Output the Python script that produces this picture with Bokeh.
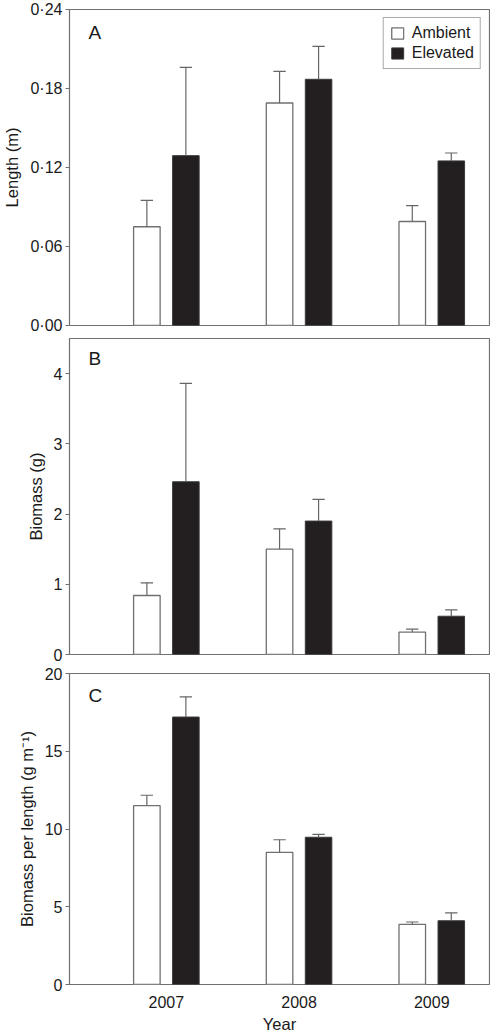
from bokeh.plotting import figure
from bokeh.layouts import column
from bokeh.models import ColumnDataSource, FixedTicker, Range1d, Label, Legend, LegendItem
from bokeh.embed import file_html
from bokeh.resources import INLINE

# ---------------- data ----------------
years = [2007, 2008, 2009]
series_names = ["Ambient", "Elevated"]

length_ambient = [0.075, 0.169, 0.079]
length_ambient_se = [0.020, 0.024, 0.012]
length_elevated = [0.129, 0.187, 0.125]
length_elevated_se = [0.067, 0.025, 0.006]

biomass_ambient = [0.84, 1.50, 0.32]
biomass_ambient_se = [0.18, 0.29, 0.04]
biomass_elevated = [2.46, 1.90, 0.545]
biomass_elevated_se = [1.40, 0.31, 0.09]

bpl_ambient = [11.5, 8.5, 3.87]
bpl_ambient_se = [0.67, 0.81, 0.15]
bpl_elevated = [17.2, 9.47, 4.10]
bpl_elevated_se = [1.30, 0.19, 0.51]

length_ticks = [0.0, 0.06, 0.12, 0.18, 0.24]
length_tick_labels = ["0·00", "0·06", "0·12", "0·18", "0·24"]
biomass_ticks = [0, 1, 2, 3, 4]
biomass_tick_labels = ["0", "1", "2", "3", "4"]
bpl_ticks = [0, 5, 10, 15, 20]
bpl_tick_labels = ["0", "5", "10", "15", "20"]
year_tick_labels = ["2007", "2008", "2009"]

# ---------------- styling ----------------
FONT = "Liberation Sans"
FRAME = "#707070"
BLACK_FILL = "#231f20"
ERR = "#666666"
X_START, X_END = 2006.27, 2009.435
BAR_W = 0.2
OFFSET = 0.147
CAP = 0.093
WIDTH = 490
LEFT = 68
RIGHT = 1
FRAME_H = 316


def make_panel(letter, letter_off, ylabel, amb, amb_se, elev, elev_se, ymax, ticks,
               tick_labels, show_x, show_legend, top_border, bottom_border):
    p = figure(width=WIDTH, height=top_border + FRAME_H + bottom_border,
               x_range=Range1d(X_START, X_END), y_range=Range1d(0, ymax),
               output_backend="svg", toolbar_location=None,
               min_border_left=LEFT, min_border_right=RIGHT,
               min_border_top=top_border, min_border_bottom=bottom_border,
               background_fill_color="white", border_fill_color="white")
    p.xgrid.visible = False
    p.ygrid.visible = False
    p.outline_line_color = FRAME
    p.outline_line_width = 1.2

    xa = [y - OFFSET for y in years]
    xe = [y + OFFSET for y in years]
    src_a = ColumnDataSource(dict(x=xa, top=amb, up=[m + s for m, s in zip(amb, amb_se)]))
    src_e = ColumnDataSource(dict(x=xe, top=elev, up=[m + s for m, s in zip(elev, elev_se)]))

    r_a = p.vbar(x="x", top="top", bottom=0, width=BAR_W, source=src_a,
                 fill_color="white", line_color=FRAME, line_width=1.3)
    r_e = p.vbar(x="x", top="top", bottom=0, width=BAR_W, source=src_e,
                 fill_color=BLACK_FILL, line_color="#3a3a3a", line_width=1.0)

    for src, xs in ((src_a, xa), (src_e, xe)):
        p.segment(x0="x", y0="top", x1="x", y1="up", source=src,
                  line_color=ERR, line_width=1.2)
        cap_src = ColumnDataSource(dict(x0=[x - CAP / 2 for x in xs],
                                        x1=[x + CAP / 2 for x in xs],
                                        y=src.data["up"]))
        p.segment(x0="x0", y0="y", x1="x1", y1="y", source=cap_src,
                  line_color=ERR, line_width=1.2)

    # y axis
    ya = p.yaxis[0]
    ya.ticker = FixedTicker(ticks=ticks)
    ya.major_label_overrides = {t: l for t, l in zip(ticks, tick_labels)}
    ya.minor_tick_line_color = None
    ya.major_tick_in = 0
    ya.major_tick_out = 4
    ya.major_tick_line_color = FRAME
    ya.axis_line_color = None
    ya.major_label_standoff = 3
    ya.major_label_text_font = FONT
    ya.major_label_text_font_size = "16px"
    ya.major_label_text_color = "#1a1a1a"
    ya.axis_label = ylabel
    ya.axis_label_text_font = FONT
    ya.axis_label_text_font_size = "16.5px"
    ya.axis_label_text_font_style = "normal"
    ya.axis_label_text_color = "#1a1a1a"
    ya.axis_label_standoff = 6

    xaxis = p.xaxis[0]
    if show_x:
        xaxis.ticker = FixedTicker(ticks=years)
        xaxis.major_label_overrides = {y: l for y, l in zip(years, year_tick_labels)}
        xaxis.minor_tick_line_color = None
        xaxis.major_tick_line_color = None
        xaxis.axis_line_color = None
        xaxis.major_label_standoff = 5
        xaxis.major_label_text_font = FONT
        xaxis.major_label_text_font_size = "16px"
        xaxis.major_label_text_color = "#1a1a1a"
        xaxis.axis_label = "Year"
        xaxis.axis_label_text_font = FONT
        xaxis.axis_label_text_font_size = "16.5px"
        xaxis.axis_label_text_font_style = "normal"
        xaxis.axis_label_text_color = "#1a1a1a"
        xaxis.axis_label_standoff = 4
    else:
        xaxis.visible = False

    lx = X_START + 0.143
    ly = ymax * (1 - letter_off / FRAME_H)
    p.add_layout(Label(x=lx, y=ly, text=letter, text_baseline="top", text_align="left",
                       text_font=FONT, text_font_size="19px", text_color="#1a1a1a"))

    if show_legend:
        leg = Legend(items=[LegendItem(label=series_names[0], renderers=[r_a]),
                            LegendItem(label=series_names[1], renderers=[r_e])],
                     location="top_right")
        leg.border_line_color = "#555555"
        leg.border_line_width = 1
        leg.background_fill_color = "white"
        leg.background_fill_alpha = 1
        leg.label_text_font = FONT
        leg.label_text_font_size = "16px"
        leg.label_text_color = "#1a1a1a"
        leg.glyph_width = 15
        leg.glyph_height = 14
        leg.label_height = 18
        leg.label_standoff = 7
        leg.spacing = 2
        leg.padding = 6
        leg.margin = 8
        p.add_layout(leg)
    return p


pa = make_panel("A", 12.5, "Length (m)", length_ambient, length_ambient_se,
                length_elevated, length_elevated_se, 0.24,
                length_ticks, length_tick_labels, False, True, 9, 8)
pb = make_panel("B", 9.0, "Biomass (g)", biomass_ambient, biomass_ambient_se,
                biomass_elevated, biomass_elevated_se, 4.5,
                biomass_ticks, biomass_tick_labels, False, False, 5, 9)
pc = make_panel("C", 11.5, "Biomass per length (g m⁻¹)", bpl_ambient, bpl_ambient_se,
                bpl_elevated, bpl_elevated_se, 20,
                bpl_ticks, bpl_tick_labels, True, False, 10, 46)

layout = column(pa, pb, pc, spacing=0)
open("out.html", "w").write(file_html(layout, INLINE))
